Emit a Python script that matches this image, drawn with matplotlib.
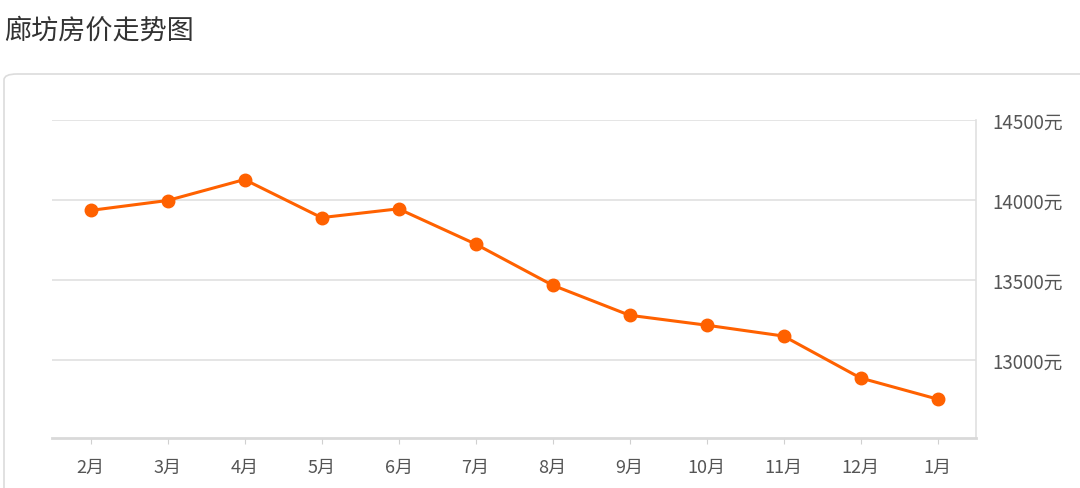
import matplotlib
matplotlib.use("Agg")
import matplotlib.pyplot as plt
from matplotlib.patches import FancyBboxPatch

plt.rcParams['font.family'] = ['Noto Sans CJK SC', 'DejaVu Sans']

title = "廊坊房价走势图"
months = ["2月", "3月", "4月", "5月", "6月", "7月", "8月", "9月", "10月", "11月", "12月", "1月"]
prices = [13935, 13997, 14128, 13890, 13945, 13725, 13468, 13280, 13218, 13150, 12888, 12756]
yticks = [13000, 13500, 14000, 14500]
ytick_labels = ["13000元", "13500元", "14000元", "14500元"]

W, H = 1080, 489
fig = plt.figure(figsize=(W / 100, H / 100), dpi=100)
fig.patch.set_facecolor("white")

# container box
box = FancyBboxPatch((4 / W, -0.2), 1.2, (H - 75) / H + 0.2,
                     boxstyle="round,pad=0,rounding_size=0.012",
                     transform=fig.transFigure, facecolor="white",
                     edgecolor="#dcdcdc", linewidth=1.2, zorder=-5)
fig.patches.append(box)

fig.text(4 / W, 1 - 31 / H, title, fontsize=19.5, color="#333333",
         va="center", ha="left")

ax = fig.add_axes([52 / W, (H - 439) / H, (976 - 52) / W, (439 - 121) / H])
ax.set_zorder(5)
ax.set_facecolor("none")
x = list(range(len(months)))
ax.plot(x, prices, color="#FF6100", linewidth=2.2, marker="o",
        markersize=9, zorder=3)

ax.set_xlim(-0.5, len(months) - 0.5)
ax.set_ylim(12513, 14500)
ax.set_xticks(x)
ax.set_xticklabels(months)
ax.set_yticks(yticks)
ax.set_yticklabels(ytick_labels)
ax.yaxis.tick_right()
ax.grid(axis="y", color="#e0e0e0", linewidth=1.2)
ax.set_axisbelow(True)

for s in ["top", "left"]:
    ax.spines[s].set_visible(False)
ax.spines["bottom"].set_color("#d9d9d9")
ax.spines["bottom"].set_linewidth(2)
ax.spines["right"].set_color("#e0e0e0")
ax.spines["right"].set_linewidth(1.2)

ax.tick_params(axis="x", length=4, color="#d0d0d0", pad=10,
               labelsize=13, labelcolor="#555555")
ax.tick_params(axis="y", length=0, pad=12, labelsize=13.5,
               labelcolor="#555555")

fig.savefig("out.png", dpi=100)
